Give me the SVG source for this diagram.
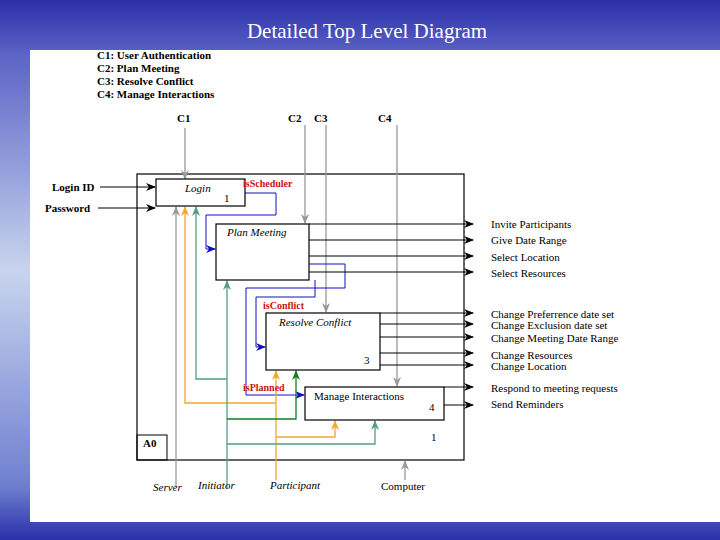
<svg xmlns="http://www.w3.org/2000/svg" width="720" height="540" viewBox="0 0 720 540">
<defs>
<linearGradient id="bg" x1="0" y1="0" x2="0" y2="1"><stop offset="0" stop-color="#2a2fa8"/><stop offset="0.1" stop-color="#5b63c6"/><stop offset="0.5" stop-color="#c8d4ee"/><stop offset="0.9" stop-color="#6f7fd0"/><stop offset="1" stop-color="#2a2fa8"/></linearGradient>
<marker id="ak" markerWidth="10" markerHeight="8" refX="9" refY="4" orient="auto" markerUnits="userSpaceOnUse"><path d="M0,0 L10,4 L0,8 L3,4 Z" fill="#000"/></marker>
<marker id="ag" markerWidth="10" markerHeight="8" refX="9" refY="4" orient="auto" markerUnits="userSpaceOnUse"><path d="M0,0 L10,4 L0,8 L3,4 Z" fill="#999"/></marker>
<marker id="ab" markerWidth="10" markerHeight="8" refX="9" refY="4" orient="auto" markerUnits="userSpaceOnUse"><path d="M0,0 L10,4 L0,8 L3,4 Z" fill="#1010c0"/></marker>
<marker id="ao" markerWidth="10" markerHeight="8" refX="9" refY="4" orient="auto" markerUnits="userSpaceOnUse"><path d="M0,0 L10,4 L0,8 L3,4 Z" fill="#f0a830"/></marker>
<marker id="an" markerWidth="10" markerHeight="8" refX="9" refY="4" orient="auto" markerUnits="userSpaceOnUse"><path d="M0,0 L10,4 L0,8 L3,4 Z" fill="#50a080"/></marker>
<marker id="ad" markerWidth="10" markerHeight="8" refX="9" refY="4" orient="auto" markerUnits="userSpaceOnUse"><path d="M0,0 L10,4 L0,8 L3,4 Z" fill="#108020"/></marker>
</defs>
<style>
.box{fill:#fff;stroke:#000;stroke-width:1.2}
.t{font-family:"Liberation Serif",serif;font-size:11px;fill:#000}
.b{font-weight:bold}
.i{font-style:italic}
.r{fill:#d01010;font-weight:bold;font-size:10px}
.k{fill:none;stroke:#000;stroke-width:1;marker-end:url(#ak)}
.g{fill:none;stroke:#999;stroke-width:1.3;marker-end:url(#ag)}
.bl{fill:none;stroke:#1010c0;stroke-width:1;marker-end:url(#ab)}
.o{fill:none;stroke:#f0a830;stroke-width:1.3}
.n{fill:none;stroke:#50a080;stroke-width:1.3}
</style>
<rect width="720" height="540" fill="url(#bg)"/>
<rect x="30" y="50" width="690" height="472" fill="#fff"/>
<text x="367" y="38" text-anchor="middle" font-family="Liberation Serif,serif" font-size="21" fill="#fff">Detailed Top Level Diagram</text>
<g class="t b">
<text x="97" y="59">C1: User Authentication</text>
<text x="97" y="72">C2: Plan Meeting</text>
<text x="97" y="85">C3: Resolve Conflict</text>
<text x="97" y="98">C4: Manage Interactions</text>
<text x="177" y="122">C1</text><text x="288" y="122">C2</text><text x="314" y="122">C3</text><text x="378" y="122">C4</text>
<text x="52" y="191">Login ID</text><text x="45" y="212">Password</text>
</g>
<rect id="outer" x="137" y="174" width="327" height="286" fill="none" stroke="#000" stroke-width="1.2"/>
<g id="a0"><rect x="137" y="435" width="30" height="25" fill="none" stroke="#000"/><text class="t b" x="143" y="447" font-size="9">A0</text></g>
<text class="t" x="431" y="441">1</text>
<g id="connectors">
<path class="g" d="M185,128 V179"/><path class="g" d="M305,125 V223"/><path class="g" d="M326,125 V312"/><path class="g" d="M397,125 V386"/>
<path class="k" d="M100,187 H155"/><path class="k" d="M98,208 H155"/>
<path class="bl" d="M245,193 H276 V215 H206 V249 H215"/>
<path class="bl" d="M309,264 H345 V288 H246 V395 H304"/>
<path class="bl" d="M315,280 V297 H256 V347 H265"/>
<path class="k" d="M309,224 H473"/><path class="k" d="M309,240 H473"/><path class="k" d="M309,256 H473"/><path class="k" d="M309,272 H473"/>
<path class="k" d="M380,313 H473"/><path class="k" d="M380,324 H473"/><path class="k" d="M380,337 H473"/><path class="k" d="M380,353 H473"/><path class="k" d="M380,365 H473"/>
<path class="k" d="M444,387 H473"/><path class="k" d="M444,405 H473"/>
<path class="g" d="M176,487 V207"/>
<path class="o" d="M276,403 H185 V207" marker-end="url(#ao)"/>
<path class="o" d="M276,480 V371" marker-end="url(#ao)"/>
<path class="o" d="M276,437 H335 V421" marker-end="url(#ao)"/>
<path class="n" d="M227,379 H196 V207" marker-end="url(#an)"/>
<path class="n" d="M227,488 V281" marker-end="url(#an)"/>
<path class="n" d="M227,419 H296 V371" style="stroke:#108020" marker-end="url(#ad)"/>
<path class="n" d="M227,444 H375 V421" marker-end="url(#an)"/>
<path class="g" d="M405,480 V461"/>
</g>
<g id="login"><rect class="box" x="156" y="179" width="89" height="27"/><text class="t i" x="185" y="192">Login</text><text class="t" x="224" y="202" font-size="8" font-family="Liberation Sans,sans-serif">1</text></g>
<g id="plan"><rect class="box" x="216" y="224" width="93" height="56"/><text class="t i" x="227" y="236">Plan Meeting</text></g>
<g id="resolve"><rect class="box" x="266" y="313" width="114" height="57"/><text class="t i" x="279" y="326">Resolve Conflict</text><text class="t" x="364" y="364">3</text></g>
<g id="manage"><rect class="box" x="305" y="387" width="139" height="33"/><text class="t" x="314" y="400">Manage Interactions</text><text class="t" x="429" y="411">4</text></g>
<g class="t r"><text x="243" y="187">isScheduler</text><text x="263" y="309">isConflict</text><text x="243" y="391">isPlanned</text></g>
<g class="t">
<text x="491" y="228">Invite Participants</text><text x="491" y="244">Give Date Range</text><text x="491" y="261">Select Location</text><text x="491" y="277">Select Resources</text>
<text x="491" y="318">Change Preferrence date set</text><text x="491" y="329">Change Exclusion date set</text><text x="491" y="342">Change Meeting Date Range</text><text x="491" y="359">Change Resources</text><text x="491" y="370">Change Location</text>
<text x="491" y="392">Respond to meeting requests</text><text x="491" y="408">Send Reminders</text>
<text class="i" x="153" y="491">Server</text><text class="i" x="198" y="489">Initiator</text><text class="i" x="270" y="489">Participant</text><text x="381" y="490">Computer</text>
</g>
</svg>
